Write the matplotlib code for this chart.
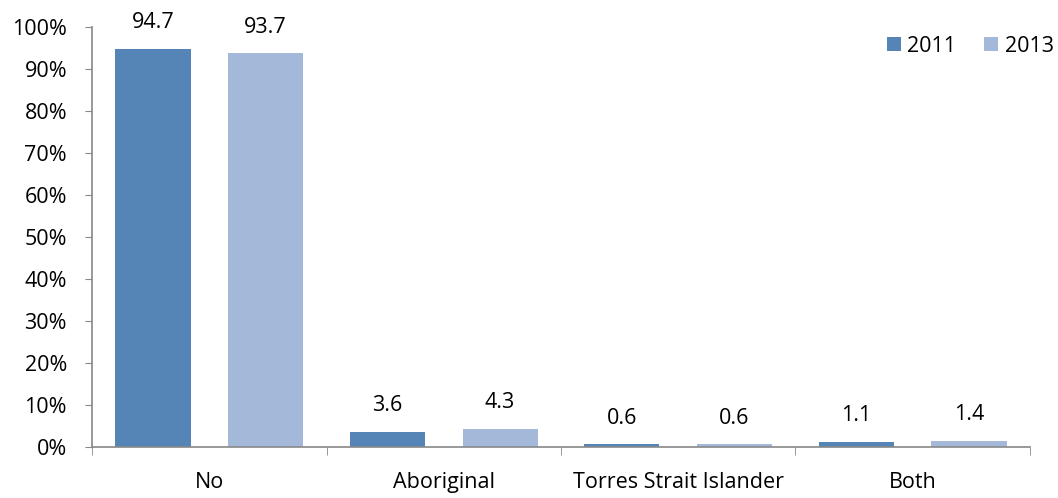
import matplotlib
matplotlib.use("Agg")
import matplotlib.pyplot as plt
import numpy as np
from matplotlib.ticker import FixedLocator, PercentFormatter

categories = ['No', 'Aboriginal', 'Torres Strait Islander', 'Both']
series = ['2011', '2013']
vals_2011 = [94.7, 3.6, 0.6, 1.1]
vals_2013 = [93.7, 4.3, 0.6, 1.4]
colors = ['#5585B7', '#A4B8D9']

plt.rcParams['font.family'] = ['Open Sans', 'DejaVu Sans']
plt.rcParams['font.size'] = 15.5

fig = plt.figure(figsize=(10.58, 4.98), dpi=100)
ax = fig.add_axes([0.087, 0.1024, 0.8865, 0.8434])

x = np.arange(len(categories))
w = 0.32
off = 0.24
for i, (vals, lab) in enumerate(zip([vals_2011, vals_2013], series)):
    pos = x + (off if i else -off)
    bars = ax.bar(pos, vals, width=w, color=colors[i], label=lab)
    for b, v in zip(bars, vals):
        ax.annotate(f'{v:.1f}', (b.get_x() + b.get_width() / 2, v),
                    xytext=(0, 19), textcoords='offset points',
                    ha='center', va='center')

ax.set_xlim(-0.5, len(categories) - 0.5)
ax.set_ylim(0, 100)
ax.yaxis.set_major_locator(FixedLocator(np.arange(0, 101, 10)))
ax.yaxis.set_major_formatter(PercentFormatter(decimals=0))
ax.set_xticks(x)
ax.set_xticklabels(categories)
ax.xaxis.set_minor_locator(FixedLocator(np.arange(-0.5, len(categories), 1)))
ax.tick_params(axis='x', which='major', length=0, pad=18)
ax.tick_params(axis='x', which='minor', length=6, color='#888888', direction='out')
ax.tick_params(axis='y', length=5, color='#888888', pad=13)

for s in ['top', 'right']:
    ax.spines[s].set_visible(False)
for s in ['left', 'bottom']:
    ax.spines[s].set_color('#888888')
    ax.spines[s].set_linewidth(1.2)

ax.legend(loc='upper right', bbox_to_anchor=(1.046, 1.025), ncol=2, frameon=False,
          handlelength=0.65, handleheight=0.65, handletextpad=0.3, columnspacing=1.3)

fig.savefig('out.png', dpi=100)
